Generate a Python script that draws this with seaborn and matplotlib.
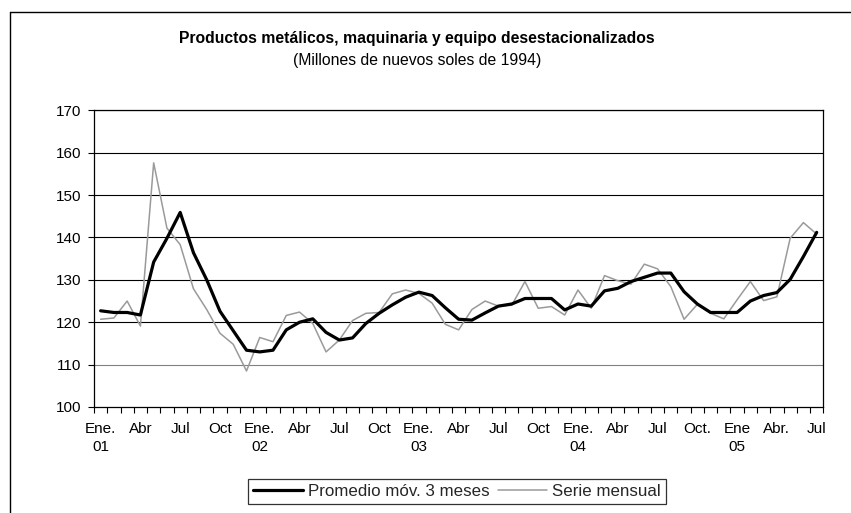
import matplotlib
matplotlib.use("Agg")
import matplotlib.pyplot as plt
from matplotlib.lines import Line2D
import seaborn as sns
import pandas as pd
import numpy as np

# Jan 2001 .. Jul 2005 (55 months)
promedio_movil = [122.7, 122.3, 122.3, 121.7, 134.2, 139.8, 145.9, 136.4, 130.0, 122.6,
                  118.0, 113.4, 113.0, 113.4, 118.2, 120.0, 120.8, 117.6, 115.8, 116.3,
                  119.7, 122.1, 124.1, 125.9, 127.1, 126.3, 123.4, 120.7, 120.5, 122.2,
                  123.8, 124.3, 125.6, 125.6, 125.6, 122.9, 124.3, 123.8, 127.4, 128.0,
                  129.6, 130.6, 131.6, 131.6, 127.2, 124.3, 122.3, 122.3, 122.3, 125.0,
                  126.3, 127.0, 130.1, 135.5, 141.2]
serie_mensual = [120.7, 121.0, 125.0, 119.1, 157.6, 142.2, 138.3, 127.9, 123.0, 117.4,
                 114.8, 108.5, 116.4, 115.4, 121.6, 122.4, 119.7, 113.0, 115.8, 120.4,
                 122.1, 122.3, 126.7, 127.6, 126.8, 124.5, 119.5, 118.2, 123.0, 125.0,
                 123.8, 124.0, 129.6, 123.3, 123.7, 121.7, 127.6, 123.3, 131.0, 129.8,
                 129.0, 133.7, 132.6, 128.4, 120.7, 124.2, 122.1, 120.8, 125.3, 129.6,
                 125.1, 126.0, 139.8, 143.5, 140.8]
tick_labels = ["Ene.\n01", "Abr", "Jul", "Oct", "Ene.\n02", "Abr", "Jul", "Oct",
               "Ene.\n03", "Abr", "Jul", "Oct", "Ene.\n04", "Abr", "Jul", "Oct.",
               "Ene\n05", "Abr.", "Jul"]
y_ticks = [100, 110, 120, 130, 140, 150, 160, 170]
title = "Productos metálicos, maquinaria y equipo desestacionalizados"
subtitle = "(Millones de nuevos soles de 1994)"
label_prom = "Promedio móv. 3 meses"
label_serie = "Serie mensual"

sns.set_theme(style="white")
plt.rcParams['font.family'] = ['Liberation Sans', 'DejaVu Sans']

n = len(serie_mensual)
df = pd.DataFrame({"mes": np.arange(n), "prom": promedio_movil, "serie": serie_mensual})

fig = plt.figure(figsize=(8.51, 5.13), dpi=100)
fig.patch.set_facecolor("white")
ax = fig.add_axes([94 / 851, 1 - 407 / 513, (823.3 - 94) / 851, (407 - 110.3) / 513])

sns.lineplot(data=df, x="mes", y="serie", ax=ax, color="#9a9a9a", linewidth=1.1,
             label=label_serie, zorder=3)
sns.lineplot(data=df, x="mes", y="prom", ax=ax, color="black", linewidth=2.3,
             label=label_prom, zorder=4)

ax.set_xlim(-0.5, n - 0.5)
ax.set_ylim(100, 170)
ax.set_yticks(y_ticks)
ax.set_yticklabels([str(v) for v in y_ticks])
for v in y_ticks[1:]:
    ax.axhline(v, color="#808080" if v == 110 else "black", linewidth=0.8, zorder=1)

ax.set_xticks(np.arange(0, n, 3))
ax.set_xticklabels(tick_labels, linespacing=1.3)
ax.set_xticks(np.arange(-0.5, n, 1), minor=True)
ax.tick_params(axis="x", which="major", length=0, pad=11, labelsize=11, colors="black")
ax.tick_params(axis="x", which="minor", bottom=True, length=4, width=0.8, color="black", direction="out")
ax.tick_params(axis="y", which="major", left=True, length=4, width=0.8, pad=5, labelsize=11,
               colors="black", direction="out")
ax.set_xlabel("")
ax.set_ylabel("")
for s in ["left", "right", "bottom", "top"]:
    ax.spines[s].set_visible(True)
    ax.spines[s].set_color("black")
    ax.spines[s].set_linewidth(0.9)

ax.get_legend().remove()
handles = [Line2D([], [], color="black", linewidth=2.3),
           Line2D([], [], color="#9a9a9a", linewidth=1.1)]
leg = fig.legend(handles, [label_prom, label_serie], loc="upper center",
                 bbox_to_anchor=(457 / 851, 1 - 479 / 513), ncol=2, frameon=True,
                 fancybox=False, edgecolor="black", fontsize=12.2, handlelength=2.9,
                 handletextpad=0.3, columnspacing=0.5, borderpad=0.3, borderaxespad=0)
leg.get_frame().set_linewidth(0.9)

fig.text(417 / 851, 1 - 38 / 513, title, ha="center", va="center", fontsize=11.3,
         fontweight="bold", color="black")
fig.text(417 / 851, 1 - 60 / 513, subtitle, ha="center", va="center", fontsize=11.3,
         color="black")

# outer chart frame
fig.add_artist(Line2D([10 / 851, 1.0], [1 - 12 / 513, 1 - 12 / 513], color="black",
                      linewidth=1.0, transform=fig.transFigure))
fig.add_artist(Line2D([10 / 851, 10 / 851], [0, 1 - 12 / 513], color="black",
                      linewidth=1.0, transform=fig.transFigure))

fig.savefig("out.png", dpi=100, facecolor="white")
